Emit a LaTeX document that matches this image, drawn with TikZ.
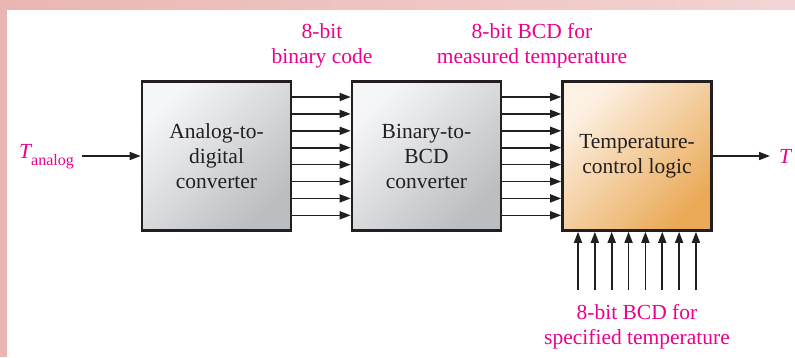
\documentclass[tikz,border=0pt]{standalone}
\usepackage{fontspec}
\setmainfont{Liberation Serif}
\usetikzlibrary{arrows.meta}
\definecolor{mag}{HTML}{EC008C}
\definecolor{ink}{HTML}{231F20}
\definecolor{bandL}{HTML}{EAB6B2}
\definecolor{bandR}{HTML}{F3D4D4}
\definecolor{grayL}{HTML}{F5F6F7}
\definecolor{grayD}{HTML}{BABEC1}
\definecolor{orL}{HTML}{FDF1E4}
\definecolor{orD}{HTML}{EAAA58}
\tikzset{
  txt/.style={font=\fontsize{21.5}{25}\selectfont},
  lbl/.style={txt, text=mag, align=center, inner sep=0pt},
  blk/.style={draw=ink, line width=2.6pt, minimum width=149pt, minimum height=149pt,
     inner sep=0pt, align=center, txt, text=ink},
  grayblk/.style={blk, top color=grayL, bottom color=grayD, shading angle=45},
  orblk/.style={blk, top color=orL, bottom color=orD, shading angle=45},
  sig/.style={draw=ink, line width=1.6pt, -{Triangle[length=11pt,width=8pt]}}
}
\begin{document}
\begin{tikzpicture}[x=1pt,y=-1pt]
\useasboundingbox (0,0) rectangle (795,357);
\fill[white] (0,0) rectangle (795,357);
\shade[left color=bandL, right color=bandR] (0,0) rectangle (795,9);
\fill[bandL] (0,0) rectangle (7,357);

\node[grayblk] (adc) at (216.5,156) {Analog-to-\\digital\\converter};
\node[grayblk] (bcd) at (426.5,156) {Binary-to-\\BCD\\converter};
\node[orblk] (tcl) at (637,156) {Temperature-\\control logic};

\node[lbl, anchor=east] (tin) at (74,157) {\itshape T\raisebox{-0.32em}{\fontsize{16}{16}\selectfont\upshape analog}};
\coordinate (tins) at (82,156);
\draw[sig] (tins) -- (adc.west |- tins);

\coordinate (tout) at (770,156);
\draw[sig] (tcl.east |- tout) -- (tout);
\node[lbl, anchor=west] (tt) at (779,156) {\itshape T};

\foreach \i in {0,...,7} {
  \coordinate (h\i) at (0,{97+\i*16.9});
  \draw[sig] (adc.east |- h\i) -- (bcd.west |- h\i);
  \draw[sig] (bcd.east |- h\i) -- (tcl.west |- h\i);
  \coordinate (v\i) at ({578+\i*16.85},290);
  \draw[sig] (v\i) -- (v\i |- tcl.south);
}

\node[lbl] (l1) at (322,46) {8-bit\\binary code};
\node[lbl] (l2) at (532,46) {8-bit BCD for\\measured temperature};
\node[lbl] (l3) at (637,327) {8-bit BCD for\\specified temperature};
\end{tikzpicture}
\end{document}
